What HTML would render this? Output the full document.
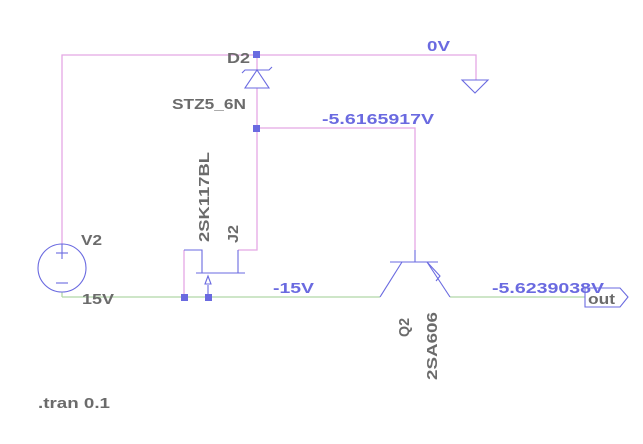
<!DOCTYPE html>
<html><head><style>
body{margin:0;background:#fff}
svg{display:block}
text{font-family:"Liberation Sans",sans-serif;font-weight:bold;font-size:15px}
</style></head><body>
<svg width="643" height="444" viewBox="0 0 643 444">
<g stroke="#e4a8e4" stroke-width="1.3" fill="none">
<polyline points="62,244 62,55 476,55 476,80"/>
<line x1="257" y1="55" x2="257" y2="70"/>
<line x1="257" y1="88" x2="257" y2="128"/>
<polyline points="257,128 415,128 415,250"/>
<polyline points="257,128 257,250 238,250"/>
</g>
<g stroke="#b0d8a8" stroke-width="1.3" fill="none">
<line x1="62" y1="292" x2="62" y2="297"/>
<line x1="62" y1="297" x2="380" y2="297"/>
<line x1="450" y1="297" x2="585" y2="297"/>
</g>
<g stroke="#e4a8e4" stroke-width="1.3" fill="none">
<line x1="184" y1="297" x2="184" y2="250"/>
</g>
<g stroke="#6a6ae0" stroke-width="1.1" fill="none">
<circle cx="62" cy="268" r="24"/>
<line x1="62" y1="244" x2="62" y2="247"/>
<line x1="56" y1="253" x2="68" y2="253"/><line x1="62" y1="247" x2="62" y2="259"/>
<line x1="56" y1="283" x2="68" y2="283"/>
<polygon points="257,70 245,88 269,88"/>
<polyline points="242,73 245,70 269,70 272,67"/>
<polygon points="462,80 488,80 475,93"/>
<polyline points="184,250 202,250 202,273"/>
<line x1="196" y1="273" x2="245" y2="273"/>
<line x1="238" y1="250" x2="238" y2="273"/>
<line x1="208" y1="297" x2="208" y2="285"/>
<polygon points="208,276 205,284 211,284"/>
<line x1="415" y1="250" x2="415" y2="262"/>
<line x1="390" y1="262" x2="438" y2="262"/>
<line x1="402" y1="262" x2="380" y2="297"/>
<line x1="427" y1="262" x2="450" y2="297"/>
<polyline points="427,262 440,276 436,281"/>
<polygon points="585,288 620,288 628,297 620,307 585,307"/>
</g>
<g fill="#6a6ae0">
<rect x="253" y="51" width="7" height="7"/>
<rect x="253" y="125" width="7" height="7"/>
<rect x="181" y="294" width="7" height="7"/>
<rect x="205" y="294" width="7" height="7"/>
</g>
<g fill="#6b6b6b">
<text x="227" y="63" textLength="23" lengthAdjust="spacingAndGlyphs">D2</text>
<text x="172" y="109" textLength="74" lengthAdjust="spacingAndGlyphs">STZ5_6N</text>
<text x="81" y="245" textLength="21" lengthAdjust="spacingAndGlyphs">V2</text>
<text x="82" y="304" textLength="32" lengthAdjust="spacingAndGlyphs">15V</text>
<text x="588" y="304" textLength="27" lengthAdjust="spacingAndGlyphs">out</text>
<text x="38" y="408" textLength="72" lengthAdjust="spacingAndGlyphs">.tran 0.1</text>
<text transform="translate(209,242) rotate(-90)" textLength="90" lengthAdjust="spacingAndGlyphs">2SK117BL</text>
<text transform="translate(238,243) rotate(-90)" textLength="18" lengthAdjust="spacingAndGlyphs">J2</text>
<text transform="translate(409,337) rotate(-90)" textLength="19" lengthAdjust="spacingAndGlyphs">Q2</text>
<text transform="translate(437,380) rotate(-90)" textLength="68" lengthAdjust="spacingAndGlyphs">2SA606</text>
</g>
<g fill="#6a6ae0">
<text x="427" y="51" textLength="23" lengthAdjust="spacingAndGlyphs">0V</text>
<text x="322" y="124" textLength="112" lengthAdjust="spacingAndGlyphs">-5.6165917V</text>
<text x="273" y="293" textLength="41" lengthAdjust="spacingAndGlyphs">-15V</text>
<text x="492" y="293" textLength="112" lengthAdjust="spacingAndGlyphs">-5.6239038V</text>
</g>
</svg>
</body></html>
